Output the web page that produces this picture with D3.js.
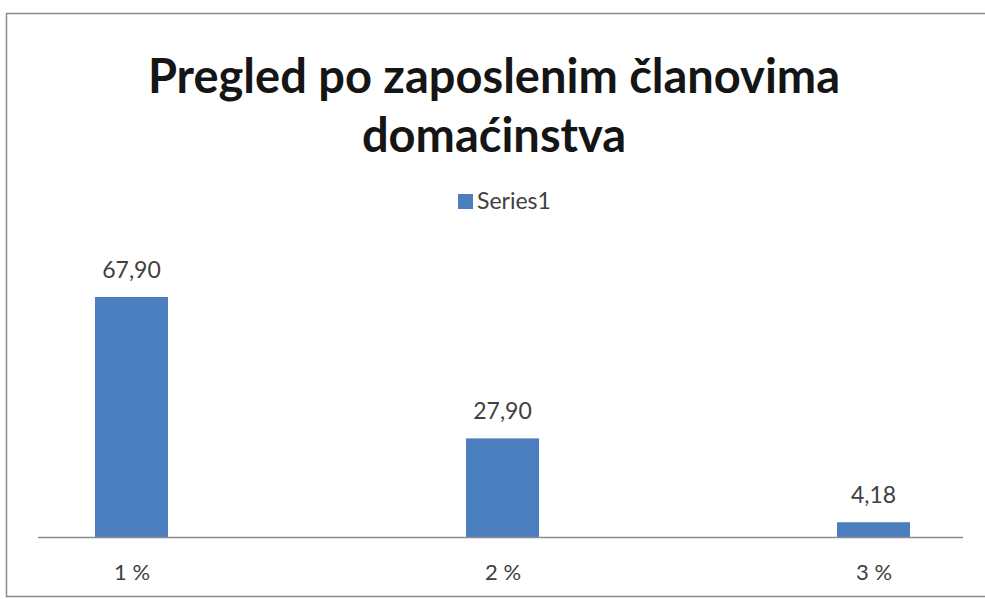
<!DOCTYPE html>
<html>
<head>
<meta charset="utf-8">
<script src="https://cdn.jsdelivr.net/npm/d3@7"></script>
<style>
  body { margin: 0; background: #fff; }
  svg { display: block; font-family: Lato, "Open Sans", sans-serif; }
</style>
</head>
<body>
<svg id="chart" width="985" height="599"></svg>
<script>
const categories = ["1 %", "2 %", "3 %"];
const values = [67.90, 27.90, 4.18];
const valueLabels = ["67,90", "27,90", "4,18"];
const seriesName = "Series1";
const titleLines = ["Pregled po zaposlenim članovima", "domaćinstva"];

const svg = d3.select("#chart");
const barColor = "#4a7ebf";

// outer chart frame
svg.append("rect")
    .attr("x", 6.5).attr("y", 13.5)
    .attr("width", 1000).attr("height", 583)
    .attr("fill", "#fff")
    .attr("stroke", "#8c8c8c")
    .attr("stroke-width", 1.5);

const baseline = 537;
const x = d3.scalePoint().domain(categories).range([131.5, 873.5]);
const y = d3.scaleLinear().domain([0, 80]).range([baseline, baseline - 80 * 3.535]);
const barW = 73;

// title
const title = svg.append("text")
    .attr("text-anchor", "middle")
    .attr("font-weight", "bold")
    .attr("font-size", 47)
    .attr("fill", "#151515");
title.selectAll("tspan")
    .data(titleLines)
    .join("tspan")
    .attr("x", 494)
    .attr("y", (d, i) => 93 + i * 59)
    .text(d => d);

// legend
const legend = svg.append("g").attr("transform", "translate(458, 194)");
legend.append("rect").attr("width", 15).attr("height", 15).attr("fill", barColor);
legend.append("text")
    .attr("x", 19).attr("y", 15)
    .attr("font-size", 23)
    .attr("fill", "#404040")
    .text(seriesName);

// bars
svg.selectAll("rect.bar")
    .data(values)
    .join("rect")
    .attr("class", "bar")
    .attr("x", (d, i) => x(categories[i]) - barW / 2)
    .attr("y", d => y(d))
    .attr("width", barW)
    .attr("height", d => y(0) - y(d))
    .attr("fill", barColor);

// value labels
svg.selectAll("text.val")
    .data(values)
    .join("text")
    .attr("class", "val")
    .attr("x", (d, i) => x(categories[i]))
    .attr("y", d => y(d) - 19)
    .attr("text-anchor", "middle")
    .attr("font-size", 23)
    .attr("fill", "#404040")
    .text((d, i) => valueLabels[i]);

// x axis
const xAxis = svg.append("g")
    .attr("transform", `translate(0, ${baseline})`)
    .call(d3.axisBottom(x).tickSize(0).tickPadding(27));
xAxis.select(".domain")
    .attr("d", "M38,0.5H963")
    .attr("stroke", "#8c8c8c")
    .attr("stroke-width", 1.5);
xAxis.selectAll("text")
    .attr("font-family", "Lato, sans-serif")
    .attr("font-size", 22)
    .attr("fill", "#404040");
</script>
</body>
</html>
